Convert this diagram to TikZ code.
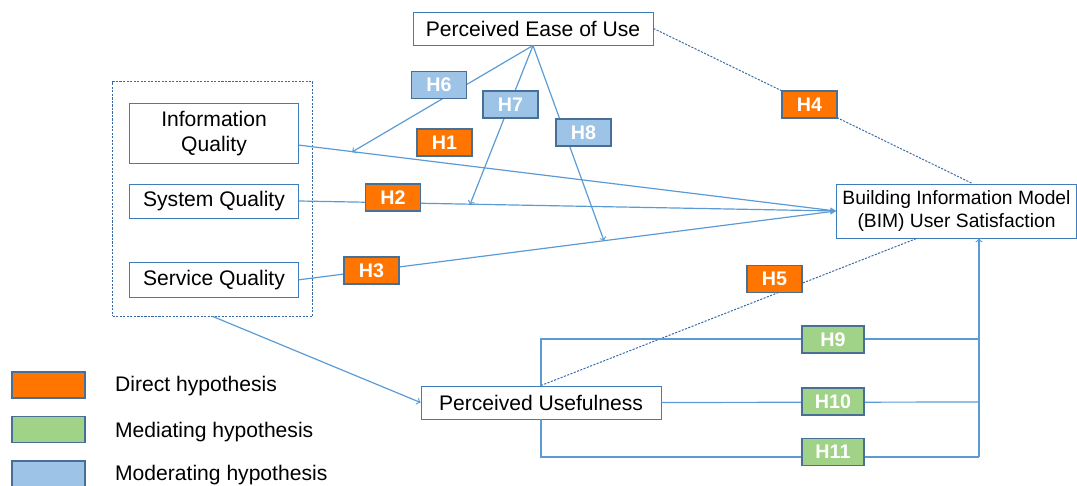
\documentclass[tikz,border=0pt]{standalone}
\usepackage{fontspec}
\setmainfont{Liberation Sans}
\usepackage{xcolor}
\definecolor{trait}{RGB}{91, 155, 213}
\definecolor{cadre}{RGB}{62, 125, 188}
\definecolor{pointille}{RGB}{55, 105, 165}
\definecolor{bordh}{RGB}{72, 112, 150}
\definecolor{orangeh}{RGB}{255, 117, 0}
\definecolor{verth}{RGB}{160, 210, 135}
\definecolor{bleuh}{RGB}{157, 195, 230}

\begin{document}
\begin{tikzpicture}[>=to, line width=0.7pt,
    bloc/.style={draw=cadre, fill=white, inner sep=0pt, minimum width=4.225cm, align=center, font=\fontsize{15}{17.5}\selectfont},
    hyp/.style={draw=bordh, line width=0.8pt, inner sep=0pt, minimum width=1.375cm, minimum height=0.675cm, text=white, font=\fontsize{14}{16}\selectfont\bfseries},
    lien/.style={draw=trait, line width=0.85pt},
    tiret/.style={draw=pointille, dash pattern=on 1.5pt off 1pt},
    legende/.style={anchor=west, font=\fontsize{15}{17.5}\selectfont}]
                \useasboundingbox (0,0) rectangle (26.925,12.15);

                % variables externes
                \node[bloc, minimum width=5cm, minimum height=5.86cm, draw=pointille, dash pattern=on 1.5pt off 1pt, fill=none] (grp) at (5.32,7.18){};
                \node[bloc, minimum height=1.5cm] (iq) at (5.35,8.8125){\raisebox{-2pt}{Information}\\\raisebox{-2pt}{Quality}};
                \node[bloc, minimum height=0.85cm] (sq) at (5.35,7.125){System Quality};
                \node[bloc, minimum height=0.875cm] (svq) at (5.35,5.155){Service Quality};

                % variables centrales
                \node[bloc, minimum width=6cm, minimum height=0.825cm] (pe) at (13.325,11.4375){Perceived Ease of Use};
                \node[bloc, minimum width=6cm, minimum height=0.825cm] (pu) at (13.525,2.0875){Perceived Usefulness};
                \node[bloc, minimum width=6cm, minimum height=1.35cm, font=\fontsize{13.7}{17}\selectfont] (bim) at (23.9125,6.875){Building Information Model\\(BIM) User Satisfaction};

                % points d'arrivee
                \coordinate (h6fin) at (8.8,8.35);
                \coordinate (h7fin) at (11.75,7.0375);
                \coordinate (h8fin) at (15.1,6.13);
                \coordinate (j9) at (24.475,3.675);
                \coordinate (j10) at (24.475,2.1);
                \coordinate (j11) at (24.475,0.725);

                % qualites vers satisfaction
                \draw[lien,-stealth] ([yshift=-0.29cm]iq.east) -- (bim.west);
                \draw[lien,-stealth] (sq.east) -- (bim.west);
                \draw[lien,-stealth] (svq.east) -- (bim.west);

                % moderation par la facilite d'usage
                \draw[lien,->] (pe.south) -- (h6fin);
                \draw[lien,->] (pe.south) -- (h7fin);
                \draw[lien,->] (pe.south) -- (h8fin);

                % liens directs en pointilles
                \draw[tiret] (pe.east) -- ([xshift=0.4cm]bim.north);
                \draw[tiret] (pu.north) -- ([xshift=-1cm]bim.south);

                % qualites vers utilite
                \draw[lien,->] (grp.south) -- (pu.west);

                % mediation
                \draw[lien] (pu.north) |- (j9);
                \draw[lien] (pu.east) -- (j10);
                \draw[lien] (pu.south) |- (j11);
                \draw[lien,->] (j11) -- (j11 |- bim.south);

                % etiquettes des hypotheses
                \node[hyp, fill=orangeh] (h1) at (11.1125,8.5875){H1};
                \node[hyp, fill=orangeh] (h2) at (9.825,7.2125){H2};
                \node[hyp, fill=orangeh] (h3) at (9.2875,5.3875){H3};
                \node[hyp, fill=orangeh] (h4) at (20.2375,9.5375){H4};
                \node[hyp, fill=orangeh] (h5) at (19.3625,5.175){H5};
                \node[hyp, fill=bleuh] (h6) at (10.975,10.025){H6};
                \node[hyp, fill=bleuh] (h7) at (12.7625,9.5375){H7};
                \node[hyp, fill=bleuh] (h8) at (14.5875,8.8375){H8};
                \node[hyp, fill=verth, minimum width=1.55cm] (h9) at (20.825,3.6625){H9};
                \node[hyp, fill=verth, minimum width=1.55cm] (h10) at (20.825,2.1125){H10};
                \node[hyp, fill=verth, minimum width=1.55cm] (h11) at (20.825,0.85){H11};

                % legende
                \node[hyp, fill=orangeh, minimum width=1.825cm, minimum height=0.65cm] (legdir) at (1.2125,2.525){};
                \node[hyp, fill=verth, minimum width=1.825cm, minimum height=0.65cm] (legmed) at (1.2125,1.4125){};
                \node[hyp, fill=bleuh, minimum width=1.825cm, minimum height=0.65cm] (legmod) at (1.2125,0.3){};
                \node[legende] (txtdir) at (2.75,2.49){Direct hypothesis};
                \node[legende] (txtmed) at (2.75,1.34){Mediating hypothesis};
                \node[legende] (txtmod) at (2.75,0.27){Moderating hypothesis};
\end{tikzpicture}
\end{document}
